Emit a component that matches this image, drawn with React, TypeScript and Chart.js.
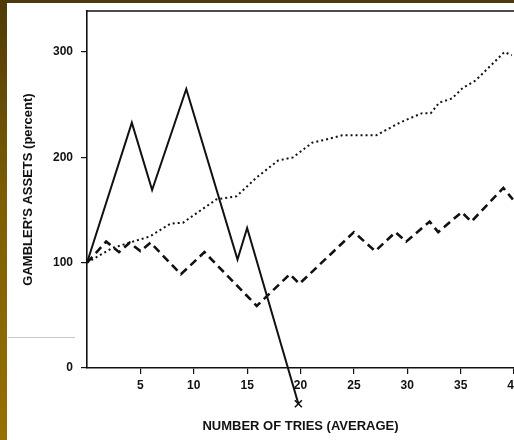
import React, { useEffect, useRef } from "react";
import { Chart, registerables } from "chart.js";

Chart.register(...registerables);

const xTicks = [5, 10, 15, 20, 25, 30, 35, 40];
const yTicks = [0, 100, 200, 300];

const solidX = [0, 4.2, 6.1, 9.3, 14.1, 15.0, 19.8];
const solidY = [100, 233, 169, 265, 103, 133, -34];

const dashedX = [0, 1.8, 3.0, 4.0, 5.0, 5.95, 8.8, 11.0, 15.9, 19.0, 19.9, 25.0, 27.0, 28.9, 29.9, 32.1, 32.9, 35.1, 36.0, 39.0, 39.9];
const dashedY = [100, 120, 110, 119, 111, 119, 89, 110, 59, 89, 80, 129, 111, 129, 120, 139, 129, 148, 139, 171, 160];

const dottedX = [0, 2.4, 5.9, 7.8, 9.0, 12.1, 14.0, 15.9, 17.9, 19.3, 21.1, 22.4, 23.9, 27.1, 29.3, 31.4, 32.2, 33.0, 34.2, 35.2, 36.4, 37.7, 39.1, 39.8];
const dottedY = [100, 114, 125, 137, 138, 160, 163, 181, 197, 200, 214, 217, 221, 221, 233, 242, 242, 252, 256, 266, 273, 286, 300, 297];

const xTitle = "NUMBER OF TRIES (AVERAGE)";
const yTitle = "GAMBLER'S ASSETS (percent)";

const pts = (xs: number[], ys: number[]) => xs.map((x, i) => ({ x, y: ys[i] }));

const FONT = "'Liberation Sans', Arial, Helvetica, sans-serif";

export default function App() {
  const ref = useRef<HTMLCanvasElement | null>(null);

  useEffect(() => {
    if (!ref.current) return;
    const framePlugin = {
      id: "frame",
      afterDatasetsDraw(chart: any) {
        const { ctx, chartArea } = chart;
        ctx.save();
        ctx.strokeStyle = "#111";
        ctx.lineWidth = 1.5;
        ctx.beginPath();
        ctx.moveTo(chartArea.left, chartArea.top);
        ctx.lineTo(chartArea.right, chartArea.top);
        ctx.stroke();
        // end marker (x) of the solid series, placed through the scales
        const xs = chart.scales.x;
        const ys = chart.scales.y;
        const last = solidX.length - 1;
        const px = xs.getPixelForValue(solidX[last]);
        const py = ys.getPixelForValue(solidY[last]);
        const r = 3.5;
        ctx.lineWidth = 1.6;
        ctx.beginPath();
        ctx.moveTo(px - r, py - r);
        ctx.lineTo(px + r, py + r);
        ctx.moveTo(px + r, py - r);
        ctx.lineTo(px - r, py + r);
        ctx.stroke();
        ctx.restore();
      },
    };
    const chart = new Chart(ref.current, {
      type: "scatter",
      data: {
        datasets: [
          {
            data: pts(dottedX, dottedY),
            showLine: true,
            borderColor: "#111",
            borderWidth: 2,
            borderDash: [2, 3],
            pointRadius: 0,
            tension: 0,
            clip: false as any,
          },
          {
            data: pts(dashedX, dashedY),
            showLine: true,
            borderColor: "#111",
            borderWidth: 2.6,
            borderDash: [8, 5],
            pointRadius: 0,
            tension: 0,
            clip: false as any,
          },
          {
            data: pts(solidX, solidY),
            showLine: true,
            borderColor: "#111",
            borderWidth: 2,
            pointRadius: 0,
            tension: 0,
            clip: false as any,
          },
        ],
      },
      options: {
        responsive: false,
        animation: false,
        layout: { padding: { top: 11, right: 0, left: 0, bottom: 0 } },
        plugins: { legend: { display: false }, tooltip: { enabled: false } },
        scales: {
          x: {
            type: "linear",
            min: 0,
            max: 40,
            afterBuildTicks: (s: any) => {
              s.ticks = xTicks.map((v) => ({ value: v }));
            },
            afterFit: (s: any) => {
              s.height = 72;
              s.paddingLeft = 0;
              s.paddingRight = 0;
              if (s._margins) {
                s._margins.left = 0;
                s._margins.right = 0;
              }
            },
            grid: { display: true, drawOnChartArea: false, drawTicks: true, tickLength: 6, color: "#111", lineWidth: 1.2 },
            border: { display: true, color: "#111", width: 1.6 },
            ticks: {
              color: "#111",
              padding: 4,
              maxRotation: 0,
              autoSkip: false,
              font: { family: FONT, size: 12, weight: "bold" },
            },
            title: {
              display: true,
              text: xTitle,
              color: "#111",
              padding: { top: 0, bottom: 6 },
              font: { family: FONT, size: 13, weight: "bold" },
            },
          },
          y: {
            type: "linear",
            min: 0,
            max: 339,
            afterBuildTicks: (s: any) => {
              s.ticks = yTicks.map((v) => ({ value: v }));
            },
            afterFit: (s: any) => {
              s.width = 87;
              s.paddingTop = 0;
              s.paddingBottom = 0;
              if (s._margins) {
                s._margins.top = 0;
                s._margins.bottom = 0;
              }
            },
            grid: { display: true, drawOnChartArea: false, drawTicks: true, tickLength: 6, color: "#111", lineWidth: 1.2 },
            border: { display: true, color: "#111", width: 1.6 },
            ticks: {
              color: "#111",
              padding: 8,
              font: { family: FONT, size: 12, weight: "bold" },
            },
            title: {
              display: true,
              text: yTitle,
              color: "#111",
              padding: { top: 21, bottom: 0 },
              font: { family: FONT, size: 13, weight: "bold" },
            },
          },
        },
      },
      plugins: [framePlugin],
    });
    return () => chart.destroy();
  }, []);

  return (
    <div style={{ position: "fixed", left: 0, top: 0, width: 514, height: 440, background: "#fff", overflow: "hidden" }}>
      <canvas ref={ref} width={514} height={440} style={{ position: "absolute", left: 0, top: 0 }} />
      <div style={{ position: "absolute", left: 0, top: 0, width: 514, height: 3, background: "#4d3a0c" }} />
      <div style={{ position: "absolute", left: 0, top: 0, width: 7, height: 440, background: "linear-gradient(#4f3a08, #7d5e04 45%, #967000)" }} />
      <div style={{ position: "absolute", left: 8, top: 337, width: 67, height: 1, background: "#c8c8c8" }} />
    </div>
  );
}
